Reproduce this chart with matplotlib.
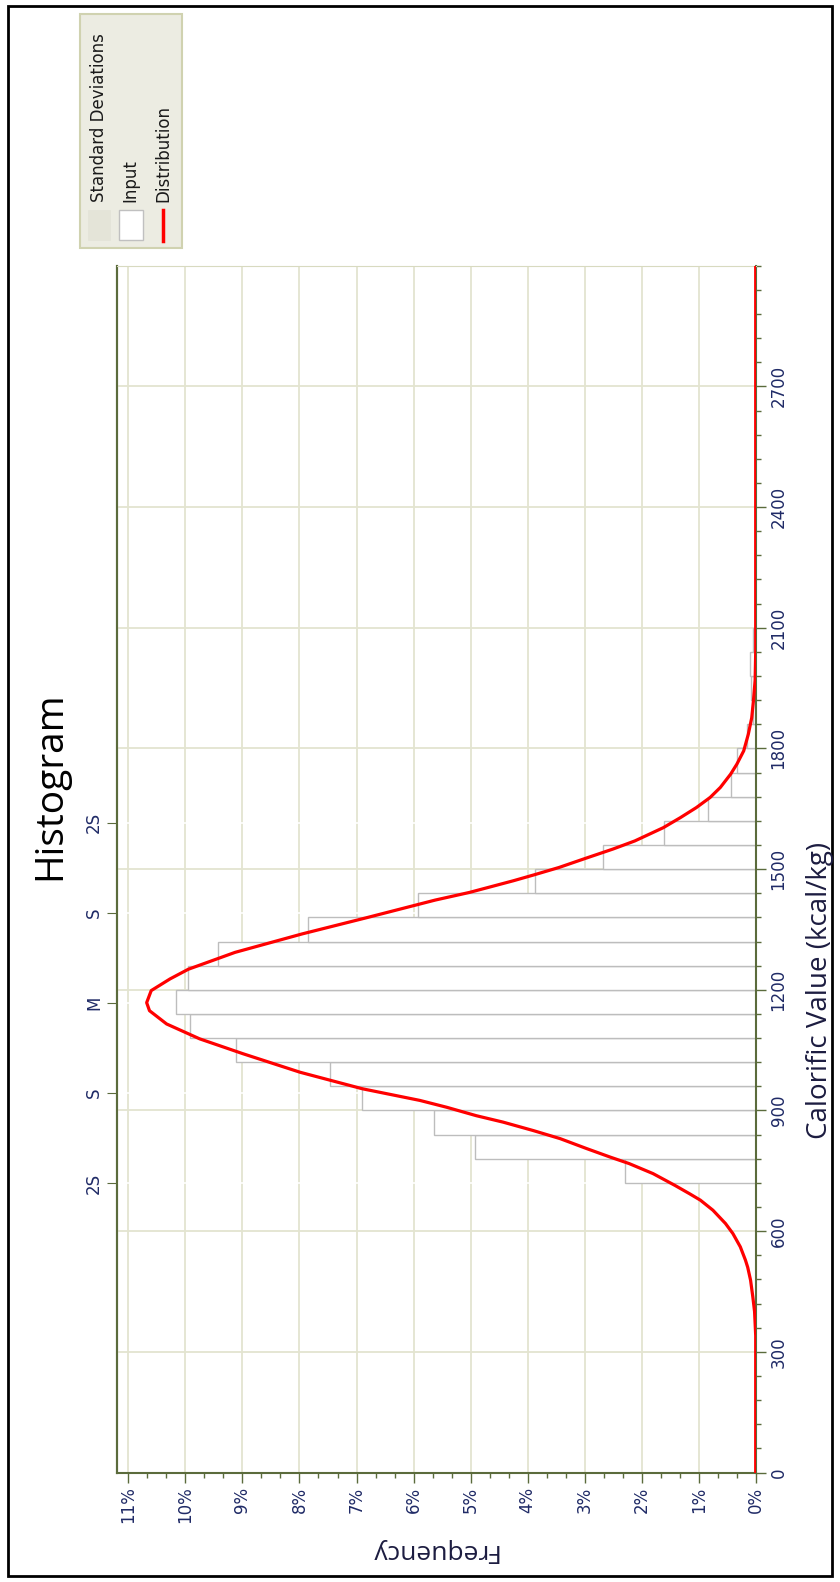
import numpy as np
import matplotlib.pyplot as plt
from matplotlib.patches import Rectangle
from matplotlib.lines import Line2D
from matplotlib.ticker import MultipleLocator, FuncFormatter

# histogram: lower bin edge (kcal/kg), bin width 60, frequency in %
bin_lo = [720, 780, 840, 900, 960, 1020, 1080, 1140, 1200, 1260, 1320, 1380,
          1440, 1500, 1560, 1620, 1680, 1740, 1800, 1860, 1920, 1980, 2040]
bin_freq = [2.29, 4.92, 5.64, 6.91, 7.47, 9.12, 9.92, 10.17, 9.95, 9.43, 7.85, 5.92,
            3.87, 2.67, 1.60, 0.83, 0.43, 0.33, 0.16, 0.05, 0.08, 0.10, 0.05]
bin_width = 60

# fitted distribution
curve_val = [0, 340, 400, 436, 478, 510, 528, 561, 594, 619, 652, 677, 693, 714, 743, 768,
             784, 805, 830, 850, 871, 887, 908, 925, 954, 995, 1041, 1078, 1115, 1148,
             1168, 1198, 1227, 1251, 1293, 1339, 1380, 1423, 1442, 1471, 1486, 1504,
             1525, 1550, 1570, 1603, 1628, 1653, 1678, 1703, 1736, 1761, 1794, 1835,
             1876, 1918, 1970, 2040, 3000]
curve_freq = [0, 0, 0.02, 0.05, 0.09, 0.14, 0.18, 0.27, 0.40, 0.53, 0.75, 0.97, 1.16, 1.42, 1.80, 2.22,
              2.55, 2.96, 3.43, 3.90, 4.43, 4.90, 5.42, 5.89, 6.90, 7.99, 8.99, 9.75, 10.33, 10.63,
              10.68, 10.60, 10.27, 9.95, 9.13, 7.95, 6.80, 5.62, 5.02, 4.25, 3.88, 3.45,
              3.02, 2.50, 2.12, 1.62, 1.32, 1.04, 0.80, 0.62, 0.44, 0.33, 0.21, 0.13,
              0.07, 0.04, 0.01, 0, 0]

# standard deviation markers
sd_pos = [719, 943, 1167, 1391, 1615]
sd_labels = ['2S', 'S', 'M', 'S', '2S']

val_ticks = list(range(0, 2701, 300))
freq_ticks = list(range(0, 12))

W, H = 840, 1582
olive = '#5B6B3C'
grid_c = '#E3E4D0'
tick_c = '#1F2A66'

fig = plt.figure(figsize=(W / 100, H / 100), dpi=100)

def fx(x):
    return x / W

def fy(y):
    return 1 - y / H

ax = fig.add_axes([fx(117), fy(1472.5), (755.7 - 117) / W, (1472.5 - 265.7) / H])
ax.set_xlim(11.2, 0)
ax.set_ylim(0, 3000)

centers = [b + bin_width / 2 for b in bin_lo]
ax.barh(centers, bin_freq, height=bin_width, color='white', edgecolor='#BDBDBD',
        linewidth=1, zorder=2)
ax.plot(curve_freq, curve_val, color='#FF0000', lw=2.3, zorder=3,
        solid_joinstyle='round', solid_capstyle='round')
for s in sd_pos:
    ax.axhline(s, color='white', lw=1.2, zorder=1)

ax.set_xticks(freq_ticks)
ax.xaxis.set_minor_locator(MultipleLocator(1 / 3))
ax.xaxis.set_major_formatter(FuncFormatter(lambda v, p: f'{int(round(v))}%'))
ax.set_yticks(val_ticks)
ax.yaxis.set_minor_locator(MultipleLocator(60))
ax.yaxis.tick_right()
ax.grid(which='major', color=grid_c, lw=1.3)
ax.axhline(3000, color=grid_c, lw=1.3, zorder=0.5)
ax.set_axisbelow(True)

ax.tick_params(which='both', color=olive, width=1)
ax.tick_params(which='major', length=7, labelsize=12, labelcolor=tick_c, labelrotation=90, pad=3)
ax.tick_params(which='minor', length=3.5)
for lab in ax.get_yticklabels():
    lab.set_va('center')

for side in ['left', 'right', 'bottom']:
    ax.spines[side].set_color(olive)
    ax.spines[side].set_linewidth(1.5)
ax.spines['top'].set_color('#D8DAC0')

sec = ax.secondary_yaxis('left')
sec.set_yticks(sd_pos, labels=sd_labels)
sec.tick_params(length=7, color=olive, labelsize=12, labelcolor=tick_c, labelrotation=90, pad=3)
sec.spines['left'].set_color(olive)
sec.spines['left'].set_linewidth(1.5)
for lab in sec.get_yticklabels():
    lab.set_va('center')

fig.text(fx(50), fy(786), 'Histogram', rotation=90, fontsize=28, ha='center', va='center',
         family='Open Sans', color='black')
fig.text(fx(820), fy(990), 'Calorific Value (kcal/kg)', rotation=90, fontsize=20,
         ha='center', va='center', family='Open Sans', color='#1C1C40')
fig.text(fx(433), fy(1550), 'Frequency', rotation=180, fontsize=19,
         ha='center', va='center', family='Open Sans', color='#1C1C40')

# legend, drawn by hand because it is rotated
fig.add_artist(Rectangle((fx(80), fy(248)), 101.7 / W, 234 / H, transform=fig.transFigure,
                         facecolor='#ECECE2', edgecolor='#D0D2B0', lw=1.5))
fig.add_artist(Rectangle((fx(88), fy(240)), 22 / W, 30 / H, transform=fig.transFigure,
                         facecolor='#E4E4D8', edgecolor='#E4E4D8', lw=0.5))
fig.add_artist(Rectangle((fx(119), fy(240)), 24 / W, 30 / H, transform=fig.transFigure,
                         facecolor='white', edgecolor='#C0C0C0', lw=1))
fig.add_artist(Line2D([fx(162.5), fx(162.5)], [fy(241), fy(210)], transform=fig.transFigure,
                      color='#FF0000', lw=2.5))
for xc, txt in [(99.5, 'Standard Deviations'), (130, 'Input'), (163, 'Distribution')]:
    fig.text(fx(xc), fy(202), txt, rotation=90, fontsize=12, ha='center', va='bottom',
             color='#1a1a1a')

fig.add_artist(Rectangle((fx(8), fy(1576)), (832 - 8) / W, (1576 - 6) / H,
                         transform=fig.transFigure, facecolor='none', edgecolor='black', lw=2))

fig.savefig('out.png', dpi=100)
